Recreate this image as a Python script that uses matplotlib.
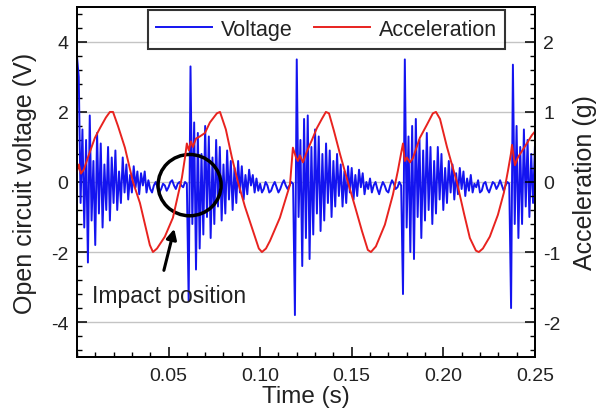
import matplotlib
matplotlib.use("Agg")
import matplotlib.pyplot as plt
import numpy as np
from matplotlib.patches import Ellipse
from matplotlib.ticker import MultipleLocator, FixedLocator, FormatStrFormatter

plt.rcParams['font.family'] = ['Liberation Sans', 'DejaVu Sans']
plt.rcParams['axes.unicode_minus'] = False

# voltage samples (V), one sample per ms, split at each impact
volt_cycle1 = [3.6, 3.0, -0.6, 1.5, -1.3, 1.2, -2.3, 1.9, -1.1, 0.6,
               -1.8, 1.4, -0.9, 1.1, -1.3, 0.5, -0.8, 1.0, -1.1, 0.7,
               -0.6, 0.9, -0.8, 0.3, -0.6, 0.7, -0.3, 0.5, -0.5, 0.2,
               -0.3, 0.45, -0.15, 0.3, -0.35, 0.25, -0.1, 0.3, -0.3,
               0.05, -0.2, -0.3, -0.1, 0.0, -0.15, -0.3, -0.2, -0.05, -0.1,
               -0.25, -0.15, 0.0, 0.05, -0.1, -0.2, -0.05, 0.0, -0.1, -0.15,
               0.0, -0.05]
volt_cycle2 = [-3.4, 3.3, -1.2, 1.7, -2.5, 1.4, -1.9, 0.8, -1.5, 1.6,
               -1.0, 1.3, -1.6, 0.7, -1.2, 1.2, -0.7, 1.0, -1.1, 0.5,
               -0.9, 0.9, -0.5, 0.6, -0.8, 0.4, -0.6, 0.6, -0.3, 0.45,
               -0.5, 0.2, -0.35, 0.35, -0.1, 0.2, -0.3, 0.1, -0.25, -0.05,
               -0.3, -0.2, 0.0, -0.1, -0.3, -0.25, -0.1, 0.0, -0.15, -0.3,
               -0.2, -0.05, 0.05, -0.1, -0.2, -0.1, 0.0, -0.05]
volt_cycle3 = [-3.8, 3.5, -1.0, 1.2, -2.4, 1.8, -1.6, 1.9, -2.2, 1.0,
               -1.5, 1.5, -0.9, 1.3, -1.4, 0.8, -1.1, 1.1, -0.6, 0.9,
               -1.0, 0.6, -0.7, 0.8, -0.4, 0.5, -0.7, 0.3, -0.6, 0.45,
               -0.3, 0.4, -0.5, 0.2, -0.4, 0.35, -0.15, 0.25, -0.35, 0.0,
               -0.2, 0.1, -0.3, -0.1, 0.0, -0.2, -0.35, -0.15, 0.0, -0.1,
               -0.25, -0.3, -0.1, 0.05, -0.05, -0.2, -0.15, 0.0, -0.1]
volt_cycle4 = [-3.2, 3.5, -1.3, 1.3, -2.0, 1.6, -2.2, 1.8, -1.0, 1.2,
               -1.6, 0.9, -1.1, 1.4, -0.8, 1.0, -1.2, 0.6, -0.9, 1.0,
               -0.5, 0.8, -0.8, 0.4, -0.6, 0.6, -0.3, 0.5, -0.5, 0.25,
               -0.35, 0.4, -0.2, 0.3, -0.4, 0.1, -0.25, 0.2, -0.3, -0.05,
               -0.15, 0.05, -0.3, -0.25, -0.05, 0.0, -0.2, -0.3, -0.15, 0.0,
               -0.05, -0.2, -0.1, 0.05, -0.1, -0.25, -0.1, 0.0, -0.05]
volt_cycle5 = [-3.6, 3.35, -1.2, 1.6, -1.6, 1.0, -1.2, 1.5, -0.7, 1.2,
               -1.0, 0.8, -0.6, 1.0]
sample_step = 0.001  # s

# acceleration curve vertices
acc_time = [0.0, 0.0011, 0.0022, 0.0038, 0.0060, 0.0098, 0.0126, 0.0158, 0.0180, 0.0197,
            0.0224, 0.0262, 0.0306, 0.0344, 0.0371, 0.0398, 0.0415, 0.0437, 0.0480, 0.0524,
            0.0573, 0.0590, 0.0600, 0.0611, 0.0622, 0.0633, 0.0650, 0.0671, 0.0699, 0.0726,
            0.0764, 0.0781, 0.0813, 0.0846, 0.0879, 0.0917, 0.0955, 0.0993, 0.1010, 0.1032,
            0.1054, 0.1108, 0.1163, 0.1179, 0.1196, 0.1206, 0.1217, 0.1234, 0.1256, 0.1283,
            0.1310, 0.1337, 0.1359, 0.1376, 0.1403, 0.1436, 0.1479, 0.1518, 0.1556, 0.1588,
            0.1605, 0.1632, 0.1681, 0.1725, 0.1752, 0.1769, 0.1780, 0.1790, 0.1801, 0.1818,
            0.1834, 0.1872, 0.1911, 0.1943, 0.1960, 0.1982, 0.2020, 0.2074, 0.2113, 0.2145,
            0.2178, 0.2194, 0.2216, 0.2254, 0.2298, 0.2331, 0.2353, 0.2369, 0.2375, 0.2391,
            0.2407, 0.2429, 0.2456, 0.2484, 0.2500]
acc_g = [0.15, 0.25, 0.12, 0.18, 0.35, 0.63, 0.77, 0.92, 1.0, 1.0,
         0.8, 0.49, 0.0, -0.3, -0.6, -0.9, -1.0, -0.95, -0.78, -0.51,
         0.06, 0.35, 0.55, 0.45, 0.58, 0.5, 0.62, 0.65, 0.7, 0.85,
         0.98, 1.0, 0.75, 0.35, 0.0, -0.35, -0.65, -0.95, -1.0, -0.95,
         -0.84, -0.51, -0.04, 0.49, 0.35, 0.3, 0.38, 0.28, 0.44, 0.6,
         0.77, 0.9, 1.0, 0.98, 0.73, 0.4, 0.0, -0.35, -0.7, -0.97,
         -1.0, -0.92, -0.61, -0.18, 0.16, 0.4, 0.55, 0.3, 0.35, 0.28,
         0.34, 0.63, 0.82, 0.98, 1.0, 0.9, 0.5, 0.0, -0.45, -0.8,
         -0.98, -1.0, -0.95, -0.78, -0.47, -0.15, 0.16, 0.4, 0.53, 0.24,
         0.35, 0.44, 0.55, 0.67, 0.72]

voltage = np.array(volt_cycle1 + volt_cycle2 + volt_cycle3 + volt_cycle4 + volt_cycle5)
t_volt = np.arange(len(voltage)) * sample_step

txt = '#222222'
fig = plt.figure(figsize=(6.01, 4.14), dpi=100)
ax = fig.add_axes([0.128, 0.135, 0.762, 0.846])
ax2 = ax.twinx()

l1, = ax.plot(t_volt, voltage, color='#1414f0', lw=1.4, label='Voltage')
l2, = ax2.plot(acc_time, acc_g, color='#e8231f', lw=1.4, label='Acceleration')

ax.set_xlim(0, 0.25)
ax.set_ylim(-5, 5)
ax2.set_ylim(-2.5, 2.5)

ax.xaxis.set_major_locator(FixedLocator([0.05, 0.10, 0.15, 0.20, 0.25]))
ax.xaxis.set_major_formatter(FormatStrFormatter('%.2f'))
ax.xaxis.set_minor_locator(MultipleLocator(0.01))
ax.yaxis.set_major_locator(FixedLocator([-4, -2, 0, 2, 4]))
ax.yaxis.set_minor_locator(MultipleLocator(0.4))
ax2.yaxis.set_major_locator(FixedLocator([-2, -1, 0, 1, 2]))
ax2.yaxis.set_minor_locator(MultipleLocator(0.2))

ax.yaxis.grid(True, color='#c4c4c4', lw=1.0)
ax.set_axisbelow(True)

for a in (ax, ax2):
    a.tick_params(which='major', direction='in', length=7, width=1.1,
                  labelsize=14, labelcolor=txt, pad=6)
    a.tick_params(which='minor', direction='in', length=3.5, width=1.0)
    for s in a.spines.values():
        s.set_linewidth(1.3)
ax.tick_params(which='both', top=False, right=False)
ax.tick_params(axis='x', which='major', pad=7)
ax2.tick_params(which='both', left=False, right=True)

ax.set_xlabel('Time (s)', fontsize=17.5, color=txt, labelpad=1)
ax.set_ylabel('Open circuit voltage (V)', fontsize=18, color=txt, labelpad=10)
ax2.set_ylabel('Acceleration (g)', fontsize=18, color=txt, labelpad=9)

# impact marker
ax.add_patch(Ellipse((0.0615, -0.09), 0.0344, 1.75, fill=False, ec='black', lw=2.5, zorder=5))
ax.annotate('', xy=(0.0535, -1.26), xytext=(0.0471, -2.6),
            arrowprops=dict(arrowstyle='-|>,head_length=0.6,head_width=0.3', color='black', lw=2.2),
            zorder=5)
ax.text(0.0082, -3.23, 'Impact position', fontsize=16.5, color=txt, va='center', ha='left')

leg = ax2.legend([l1, l2], ['Voltage', 'Acceleration'], loc='upper center',
                 bbox_to_anchor=(0.545, 0.99), ncol=2, fontsize=15.5, frameon=True,
                 fancybox=False, edgecolor='black', handlelength=2.6, handletextpad=0.4,
                 columnspacing=1.0, borderpad=0.4, borderaxespad=0)
leg.get_frame().set_linewidth(1.5)
for tx in leg.get_texts():
    tx.set_color(txt)

fig.savefig('out.png', dpi=100)
